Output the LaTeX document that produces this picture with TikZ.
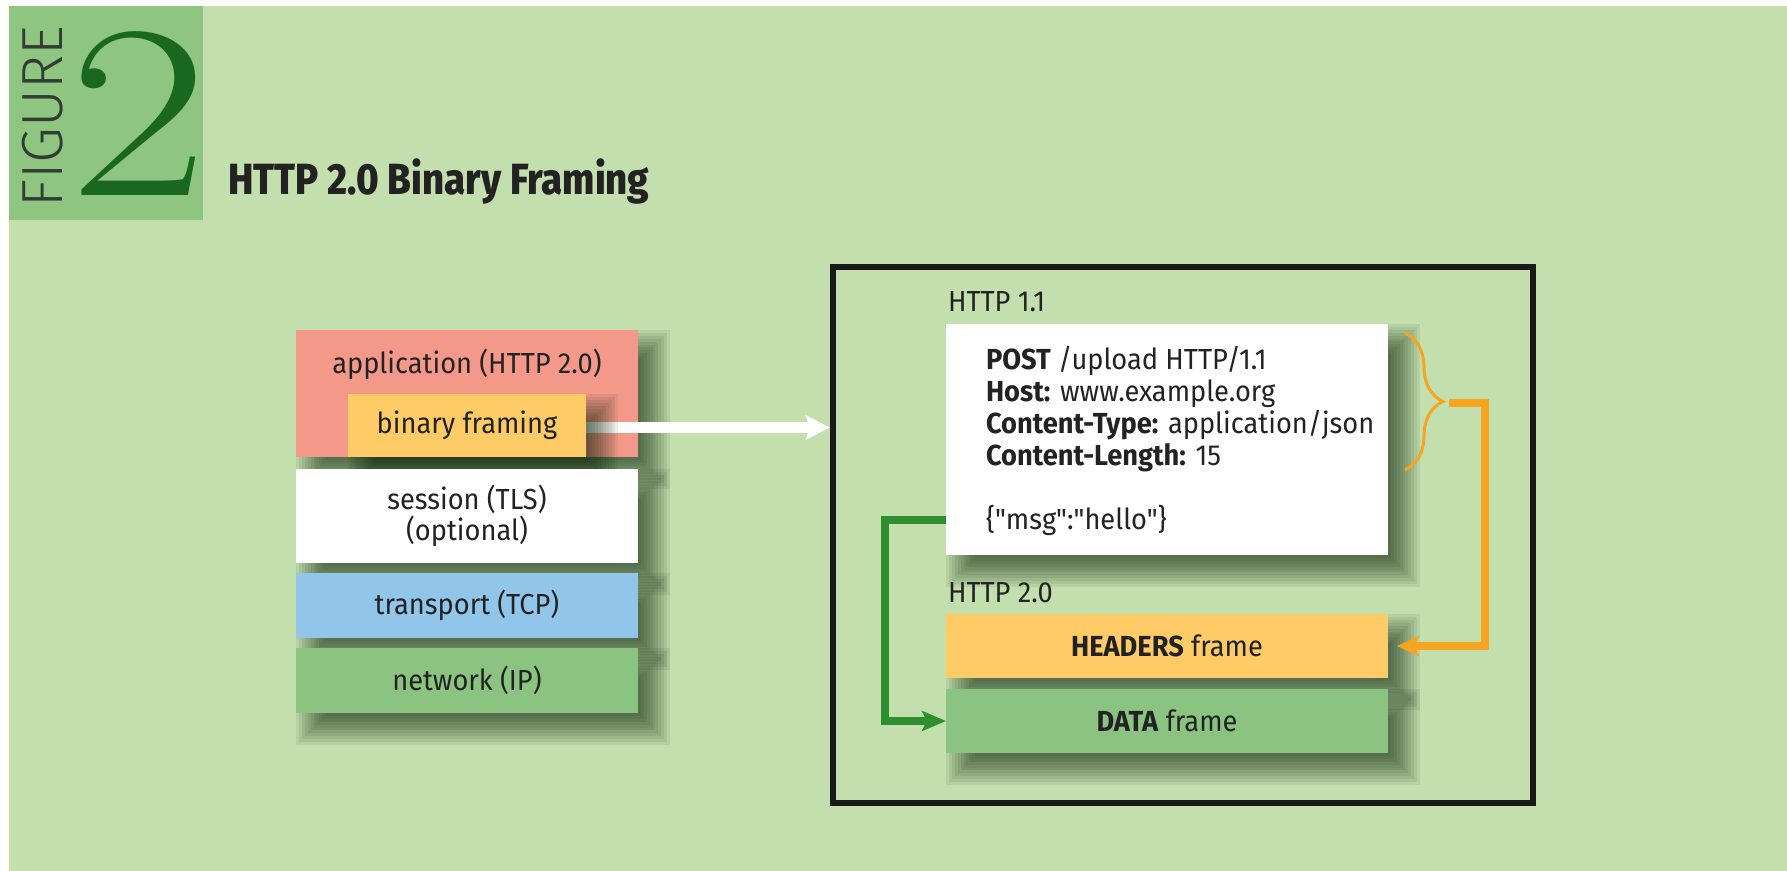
\documentclass[tikz,border=0pt]{standalone}
\usepackage{fontspec}
\usepackage{graphicx}
\usetikzlibrary{arrows.meta,decorations.pathreplacing,calc}
\newfontfamily\sans[FakeStretch=0.94]{Fira Sans}
\newfontfamily\titlefont[FakeStretch=0.88]{Fira Sans ExtraBold}
\newfontfamily\figfont{Fira Sans Light}
\definecolor{bgc}{RGB}{195,223,174}
\definecolor{figc}{RGB}{141,197,129}
\definecolor{twoc}{RGB}{26,103,32}
\definecolor{appc}{RGB}{244,153,138}
\definecolor{yelc}{RGB}{254,203,102}
\definecolor{bluec}{RGB}{146,197,234}
\definecolor{netc}{RGB}{139,196,128}
\definecolor{orc}{RGB}{247,165,32}
\definecolor{grc}{RGB}{47,143,47}
\definecolor{txtc}{RGB}{34,34,34}
\definecolor{shadowc}{RGB}{10,35,10}
% soft drop shadow: x1 y1 x2 y2 (px)
\newcommand\shad[4]{%
  \foreach \k in {0,...,11}{%
    \fill[shadowc,opacity=0.075] (#1+32-2.9*\k,#2+32-2.9*\k) rectangle (#3+2.9*\k,#4+2.9*\k);
  }}
\tikzset{
  boxs/.style={inner sep=0pt, outer sep=0pt, draw=none, text=txtc, align=center,
    font=\sans\fontsize{14.5}{14.5}\selectfont},
  lbl/.style={inner sep=0pt, outer sep=0pt, text=txtc, font=\sans\fontsize{14.5}{15.5}\selectfont},
  conn/.style={line width=4pt},
}
\begin{document}
\begin{tikzpicture}[x=0.5pt,y=-0.5pt]
\useasboundingbox (0,0) rectangle (1787,871);
\fill[bgc] (9,6) rectangle (1787,871);
\fill[figc] (9,6) rectangle (203,220);
\node[rotate=90, inner sep=0pt, text={rgb,255:red,50;green,60;blue,50}, font=\figfont\fontsize{29}{29}\selectfont] (figword) at (43,116.5) {FIGURE};
\node[anchor=base, inner sep=0pt, text=twoc, font=\fontsize{124}{124}\selectfont] (two) at (138.5,196) {\scalebox{1.22}[1]{2}};
\node[anchor=base west, inner sep=0pt, text=txtc, font=\titlefont\fontsize{21.8}{22}\selectfont] (title) at (228,195) {HTTP 2.0 Binary Framing};

% left stack
\shad{296}{330}{638}{457}
\node[boxs, fill=appc, minimum width=171pt, minimum height=63.5pt] (app) at (467,393.5) {};
\node[lbl, anchor=base] (applbl) at (467,373) {application (HTTP 2.0)};
\draw[white, line width=5.5pt, -{Stealth[length=12pt,width=12pt,inset=2pt]}] (586,427.5) -- (830,427.5);
\shad{348}{394}{586}{457}
\node[boxs, fill=yelc, minimum width=119pt, minimum height=31.5pt] (bf) at (467,425.5) {binary framing};
\shad{296}{469}{638}{563}
\node[boxs, fill=white, minimum width=171pt, minimum height=47pt, font=\sans\fontsize{14.5}{13.7}\selectfont] (sess) at (467,516) {session (TLS)\\(optional)};
\shad{296}{573}{638}{638}
\node[boxs, fill=bluec, minimum width=171pt, minimum height=32.5pt] (tcp) at (467,605.5) {transport (TCP)};
\shad{296}{648}{638}{713}
\node[boxs, fill=netc, minimum width=171pt, minimum height=32.5pt] (net) at (467,680.5) {network (IP)};

% right panel
\node[draw=black!90, line width=3pt, inner sep=0pt, minimum width=350pt, minimum height=268pt] (big) at (1183,535) {};
\node[lbl, anchor=base west] (h11) at (948,312) {HTTP 1.1};
\shad{946}{324}{1388}{555}
\node[boxs, fill=white, minimum width=221pt, minimum height=115.5pt] (wb) at (1167,439.5) {};
\node[lbl, anchor=base west] (wbtext) at (986,370)
 {\begin{tabular}[t]{@{}l@{}}
  \textbf{POST} /upload HTTP/1.1\\
  \textbf{Host:} www.example.org\\
  \textbf{Content-Type:} application/json\\
  \textbf{Content-Length:} 15\\[15.5pt]
  \{"msg":"hello"\}
  \end{tabular}};
\node[lbl, anchor=base west] (h20) at (948,602) {HTTP 2.0};
\shad{946}{614}{1388}{678}
\node[boxs, fill=yelc, minimum width=221pt, minimum height=32pt] (hdr) at (1167,646) {\textbf{HEADERS} frame};
\shad{946}{689}{1388}{753}
\node[boxs, fill=netc, minimum width=221pt, minimum height=32pt] (data) at (1167,721) {\textbf{DATA} frame};

% orange brace and connector
\coordinate (brtop) at (1405,333);
\coordinate (brbot) at (1405,470);
\draw[orc, line width=1.5pt, decorate, decoration={brace, amplitude=19pt}] (brtop) -- (brbot);
\coordinate (bracetip) at (1449,403);
\coordinate (ocorner) at (1485,646);
\draw[orc, conn, -{Stealth[length=11pt,width=10pt,inset=2.5pt]}, shorten >=4.5pt] (bracetip) -| (ocorner) -- (hdr.east);

% green connector
\coordinate (gstart) at ($(wb.south west)+(0,-35)$);
\draw[grc, conn, -{Stealth[length=12pt,width=10pt,inset=2.5pt]}] (gstart) -- ++(-61,0) |- (data.west);
\end{tikzpicture}
\end{document}
